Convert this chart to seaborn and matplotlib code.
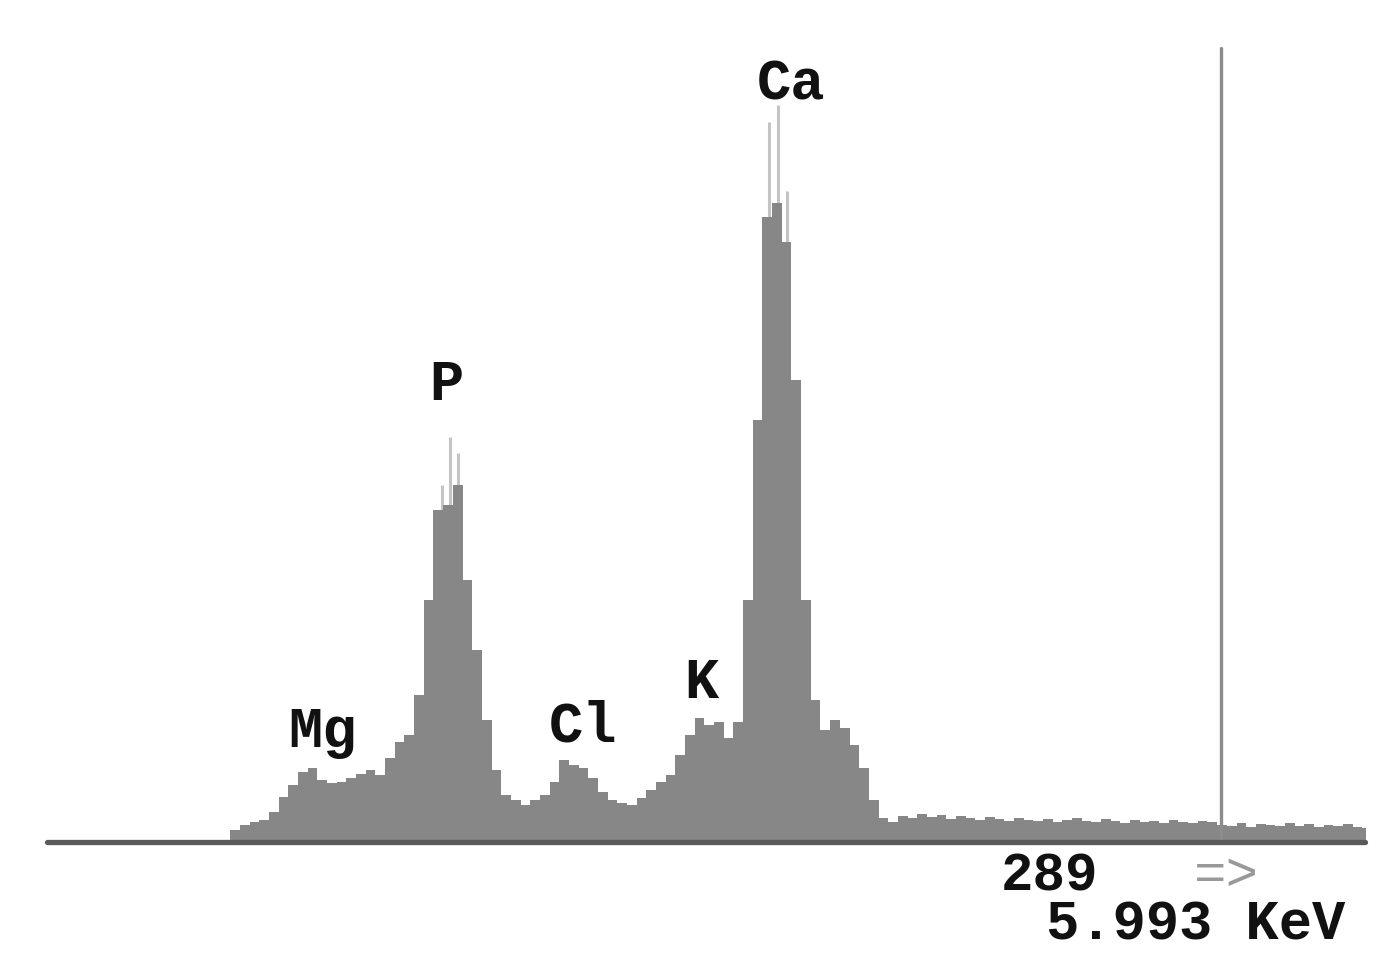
import numpy as np
import pandas as pd
import matplotlib
matplotlib.use("Agg")
import matplotlib.pyplot as plt
import seaborn as sns

# Step 1: spectrum data (energy in keV, counts per channel)
step = 0.05
energy = np.round(np.arange(0.85, 6.75 + step / 2, step), 3)

counts_low = [
    2, 12, 17, 20, 22, 30, 45, 57, 70, 74,
    62, 59, 60, 64, 68, 72, 67, 84, 100, 107,
    147, 242, 332, 337, 357, 262, 192, 122, 72, 47,
    42, 37, 42, 47, 60, 82, 77, 74, 64, 50,
    42, 39, 37, 44, 52, 60, 67, 87, 107, 124,
    117, 120, 104, 120, 242, 422, 625, 639, 600, 462,
    242, 142, 112, 122, 114, 97, 74, 42, 24, 20,
]
counts_tail = [
    26, 24, 28, 25, 27, 23, 26, 24, 22, 25, 23, 21, 24, 22,
    21, 23, 20, 22, 24, 21, 20, 23, 21, 19, 22, 20, 21, 19, 22, 20, 19, 21, 20,
    17, 16, 19, 15, 18, 17, 16, 19, 16, 18, 15, 17, 16, 18, 15, 14,
]
counts = counts_low + counts_tail

# light single-channel maxima on top of the P and Ca peaks
spike_energy = [1.97, 2.01, 2.05, 3.66, 3.705, 3.75]
spike_counts = [357, 405, 389, 720, 737, 651]

# element labels (energy, counts)
labels = ["Mg", "P", "Cl", "K", "Ca"]
label_energy = [1.349, 1.99, 2.698, 3.307, 3.773]
label_counts = [110, 457, 115, 159, 757]

cursor_kev = 5.993
cursor_counts = "289"

df = pd.DataFrame({"energy": energy, "counts": counts})

# Step 2: figure
sns.set_style("white")
plt.rcParams["font.family"] = ["Liberation Mono", "DejaVu Sans Mono"]

fig = plt.figure(figsize=(13.93, 9.71), dpi=100)
ax = fig.add_axes([47 / 1393, 129 / 971, 1318 / 1393, 800 / 971])

ax.vlines(spike_energy, 0, spike_counts, color="#c4c4c4", linewidth=2.2, zorder=1)
sns.histplot(data=df, x="energy", weights="counts", binwidth=step,
             binrange=(energy[0] - step / 2, energy[-1] + step / 2),
             element="step", fill=True, color="#878787", alpha=1,
             linewidth=0, ax=ax, zorder=2)

ax.axhline(0, color="#5a5a5a", linewidth=3.8, zorder=4, clip_on=False)
ax.axvline(cursor_kev, ymin=0, ymax=794 / 800, color="#8c8c8c", linewidth=2.4, zorder=3)

for name, ex, cy in zip(labels, label_energy, label_counts):
    ax.text(ex, cy, name, ha="center", va="center", fontsize=41,
            fontweight="bold", color="#111111")

ax.set_xlim(-0.0724, 6.739)
ax.set_ylim(0, 800)
ax.axis("off")

# Step 3: readout under the axis
fig.text(1001 / 1393, 1 - 876 / 971, cursor_counts, ha="left", va="center",
         fontsize=39, fontweight="bold", color="#111111")
fig.text(1194 / 1393, 1 - 876 / 971, "=>", ha="left", va="center",
         fontsize=39, color="#999999")
fig.text(1046 / 1393, 1 - 925 / 971, f"{cursor_kev:.3f} KeV", ha="left", va="center",
         fontsize=40, fontweight="bold", color="#111111")

plt.savefig("out.png", dpi=100)
plt.close()
